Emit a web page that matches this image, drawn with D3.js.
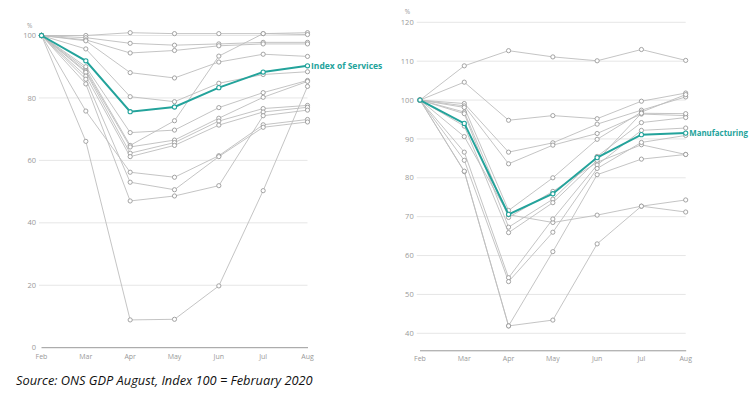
<!DOCTYPE html>
<html>
<head>
<meta charset="utf-8">
<script src="https://cdn.jsdelivr.net/npm/d3@7"></script>
<style>
  body { margin: 0; background: #fff; }
  svg { display: block; }
</style>
</head>
<body>
<svg id="chart" width="750" height="403"></svg>
<script>
var months = ["Feb", "Mar", "Apr", "May", "Jun", "Jul", "Aug"];

// services sections, index Feb 2020 = 100
var servicesIndex = [100, 91.9, 75.6, 77.1, 83.3, 88.3, 90.3];
var servicesSections = [
  [100, 100, 100.9, 100.6, 100.6, 100.6, 100.9],
  [100, 99.3, 97.5, 96.9, 97.3, 97.8, 97.8],
  [100, 98.6, 94.4, 95.2, 96.7, 97.3, 97.3],
  [100, 98.3, 88.1, 86.4, 91.5, 94.0, 93.3],
  [100, 95.7, 80.4, 78.8, 84.7, 87.5, 88.4],
  [100, 89.3, 64.8, 72.7, 93.4, 100.6, 100.3],
  [100, 90.0, 68.9, 69.7, 76.9, 81.7, 85.6],
  [100, 88.6, 64.3, 66.5, 73.5, 80.2, 85.3],
  [100, 88.2, 62.3, 65.7, 72.6, 76.6, 77.6],
  [100, 87.0, 61.2, 64.8, 71.3, 75.5, 77.0],
  [100, 75.8, 56.2, 54.6, 61.5, 71.4, 73.1],
  [100, 86.0, 53.0, 50.6, 61.2, 70.6, 72.3],
  [100, 84.5, 47.0, 48.6, 51.9, 74.3, 76.1],
  [100, 66.1, 8.9, 9.1, 19.8, 50.3, 83.7]
];
var servicesTicks = [0, 20, 40, 60, 80, 100];

// manufacturing sub-sectors
var manufacturingIndex = [100, 94.0, 70.6, 75.9, 85.2, 91.1, 91.5];
var manufacturingSectors = [
  [100, 108.8, 112.7, 111.1, 110.1, 113.0, 110.2],
  [100, 104.6, 94.8, 96.0, 95.2, 99.7, 101.8],
  [100, 99.1, 86.6, 89.0, 93.8, 97.4, 100.8],
  [100, 98.5, 83.6, 88.4, 91.4, 96.4, 96.0],
  [100, 98.1, 71.6, 80.0, 89.9, 96.9, 101.4],
  [100, 96.9, 69.8, 76.5, 84.0, 88.5, 86.0],
  [100, 96.5, 67.3, 74.5, 85.5, 94.2, 95.5],
  [100, 93.3, 65.9, 73.6, 84.5, 96.6, 96.5],
  [100, 90.6, 70.5, 68.5, 70.4, 72.7, 71.2],
  [100, 86.6, 54.3, 69.4, 83.3, 92.2, 92.8],
  [100, 84.5, 53.3, 66.0, 82.4, 89.1, 90.9],
  [100, 81.6, 41.9, 61.0, 80.8, 84.8, 86.0],
  [100, 81.7, 41.9, 43.4, 63.0, 72.7, 74.3]
];
var manufacturingTicks = [40, 50, 60, 70, 80, 90, 100, 110, 120];

var teal = "#23a39b";
var svg = d3.select("#chart");
svg.append("rect").attr("width", 750).attr("height", 403).attr("fill", "#fff");

function drawPanel(opt) {
  var x = d3.scalePoint().domain(months).range(opt.xRange);
  var y = d3.scaleLinear().domain(opt.yDomain).range(opt.yRange);
  var g = svg.append("g");

  // grid
  g.selectAll(".grid").data(opt.ticks.filter(function(t) { return t != opt.axisValue; }))
    .enter().append("line")
    .attr("x1", opt.gridStart).attr("x2", opt.xRange[1])
    .attr("y1", function(d) { return y(d); }).attr("y2", function(d) { return y(d); })
    .attr("stroke", "#e6e6e6").attr("stroke-width", 1);

  g.append("line")
    .attr("x1", opt.xRange[0]).attr("x2", opt.xRange[1] + 0.5)
    .attr("y1", y(opt.axisValue)).attr("y2", y(opt.axisValue))
    .attr("stroke", "#999").attr("stroke-width", 1);

  g.selectAll(".ytick").data(opt.ticks).enter().append("text")
    .attr("x", opt.gridStart - 3)
    .attr("y", function(d) { return y(d); })
    .attr("dy", "0.35em")
    .attr("text-anchor", "end")
    .attr("font-family", "Open Sans")
    .attr("font-size", "7.5px")
    .attr("fill", "#999")
    .text(function(d) { return d; });

  g.append("text")
    .attr("x", opt.gridStart - 12).attr("y", y(opt.ticks[opt.ticks.length - 1]) - 8)
    .attr("font-family", "Open Sans").attr("font-size", "6.5px").attr("fill", "#999")
    .text("%");

  g.selectAll(".xtick").data(months).enter().append("text")
    .attr("x", function(d) { return x(d); })
    .attr("y", opt.labelY)
    .attr("dy", "0.35em")
    .attr("text-anchor", "middle")
    .attr("font-family", "Open Sans")
    .attr("font-size", "7px")
    .attr("fill", "#999")
    .text(function(d) { return d; });

  var line = d3.line()
    .x(function(d, i) { return x(months[i]); })
    .y(function(d) { return y(d); });

  opt.series.forEach(function(s) {
    g.append("path").attr("d", line(s))
      .attr("fill", "none").attr("stroke", "#bdbdbd").attr("stroke-width", 0.9);
  });
  opt.series.forEach(function(s) {
    g.selectAll(null).data(s).enter().append("circle")
      .attr("cx", function(d, i) { return x(months[i]); })
      .attr("cy", function(d) { return y(d); })
      .attr("r", 2.1)
      .attr("fill", "#fff").attr("stroke", "#9a9a9a").attr("stroke-width", 0.9);
  });

  g.append("path").attr("d", line(opt.index))
    .attr("fill", "none").attr("stroke", teal).attr("stroke-width", 2);
  g.selectAll(null).data(opt.index).enter().append("circle")
    .attr("cx", function(d, i) { return x(months[i]); })
    .attr("cy", function(d) { return y(d); })
    .attr("r", 2.1)
    .attr("fill", "#fff").attr("stroke", teal).attr("stroke-width", 1.1);

  g.append("text")
    .attr("x", opt.xRange[1] + 3.5)
    .attr("y", y(opt.index[6]))
    .attr("dy", "0.35em")
    .attr("font-family", "Open Sans")
    .attr("font-weight", "bold")
    .attr("font-size", opt.labelSize)
    .attr("fill", teal)
    .text(opt.label);
}

drawPanel({
  xRange: [41.5, 307.5], yDomain: [0, 100], yRange: [347.7, 35.5],
  gridStart: 39, ticks: servicesTicks, axisValue: 0, labelY: 357,
  series: servicesSections, index: servicesIndex,
  label: "Index of Services", labelSize: "8.5px"
});

drawPanel({
  xRange: [420, 685.7], yDomain: [40, 120], yRange: [333.3, 22.3],
  gridStart: 416.7, ticks: manufacturingTicks, axisValue: 35.5, labelY: 358.5,
  series: manufacturingSectors, index: manufacturingIndex,
  label: "Manufacturing", labelSize: "7.9px"
});

svg.append("text")
  .attr("x", 16).attr("y", 384.5)
  .attr("font-family", "Open Sans")
  .attr("font-style", "italic")
  .attr("font-size", "12.8px")
  .attr("fill", "#111")
  .text("Source: ONS GDP August, Index 100 = February 2020");
</script>
</body>
</html>
